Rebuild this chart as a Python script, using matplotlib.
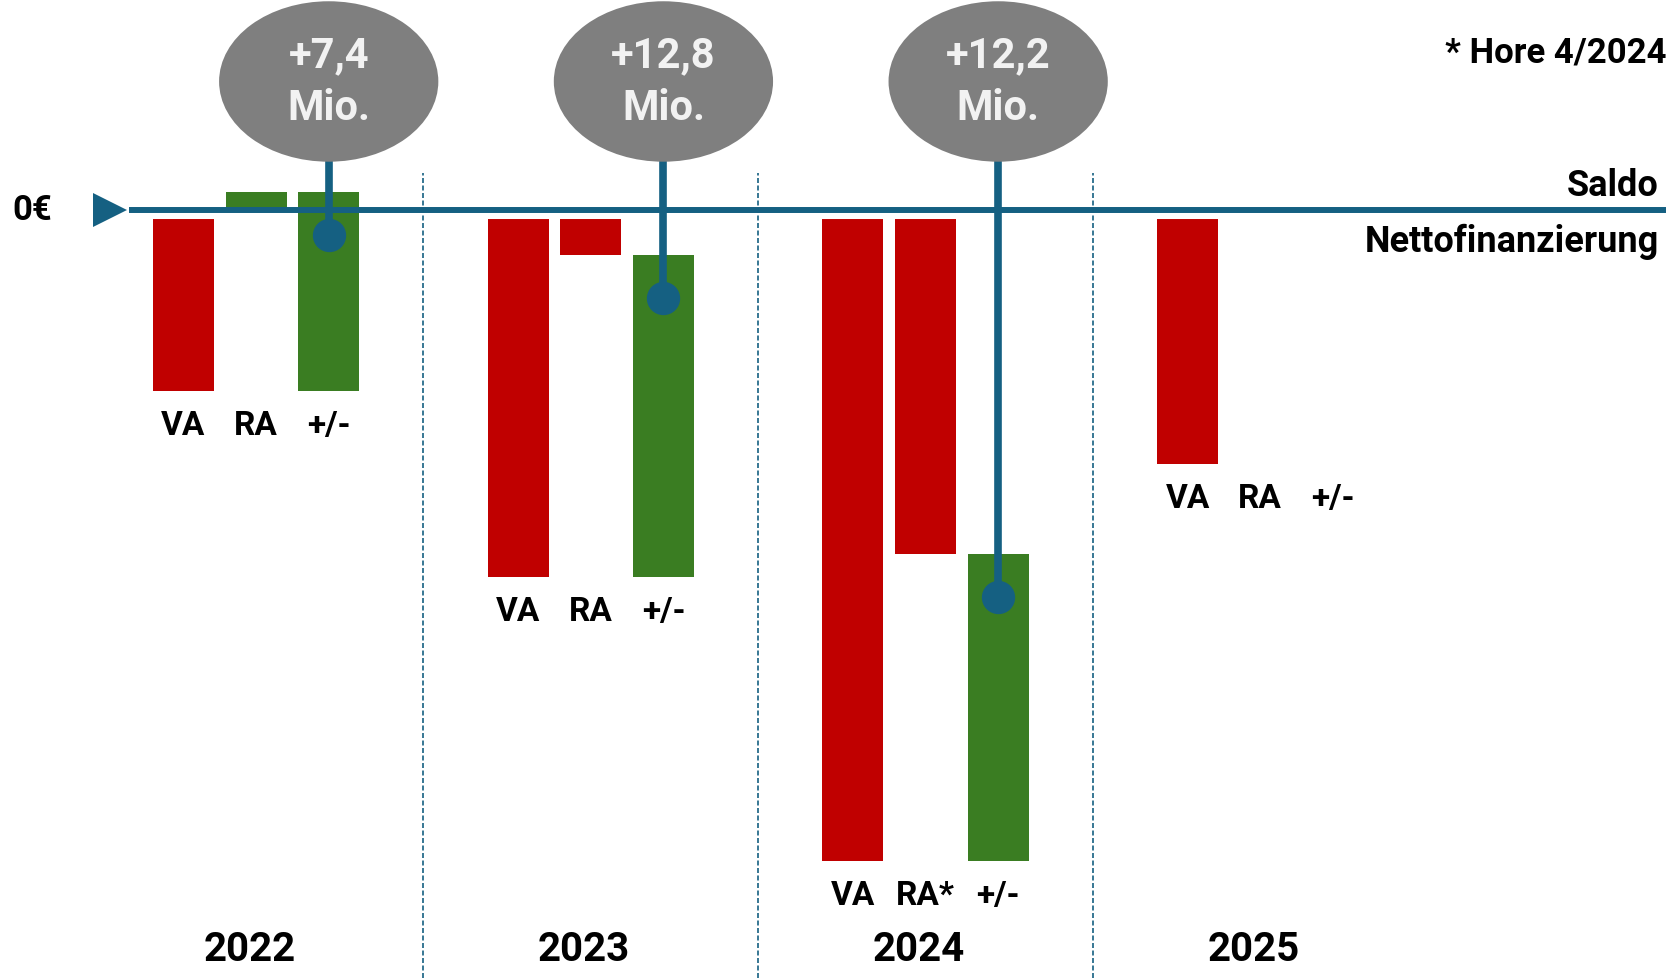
import numpy as np
import matplotlib.pyplot as plt
from matplotlib.patches import Ellipse

# Werte in Mio. €
jahre = ["2022", "2023", "2024", "2025"]
va = [-7.2, -14.6, -25.9, -10.1]        # Voranschlag
ra = [0.7, -1.8, -13.7, np.nan]         # Rechnungsabschluss
ra_labels = ["RA", "RA", "RA*", "RA"]
diff_labels = ["+7,4\nMio.", "+12,8\nMio.", "+12,2\nMio.", None]

rot = "#C00000"
gruen = "#3A7D22"
blau = "#156082"
grau = "#7F7F7F"

plt.rcParams['font.family'] = ['Roboto', 'DejaVu Sans']
plt.rcParams['font.weight'] = 'bold'

fig = plt.figure(figsize=(16.78, 9.79), dpi=100)
ax = fig.add_axes([0, 0, 1, 1])
ax.set_xlim(-0.765, 4.248)
ax.set_ylim(-30.55, 8.38)
ax.axis('off')

va = np.array(va)
ra = np.array(ra)
x = np.arange(len(jahre))
dx = 0.217   # Abstand der Balken innerhalb eines Jahres
w = 0.182

# Balken VA und RA
ax.bar(x - dx, va, w, color=rot, zorder=1)
ra_bars = ax.bar(x, np.nan_to_num(ra), w, color=[gruen if v > 0 else rot for v in np.nan_to_num(ra)], zorder=1)
for p, v in zip(ra_bars, ra):
    if v > 0:
        p.set_zorder(3)

# Differenzbalken (+/-) von VA bis RA
diff = ra - va
ok = ~np.isnan(diff)
ax.bar(x[ok] + dx, diff[ok], w, bottom=va[ok], color=gruen, zorder=3)

# Nulllinie (Saldo / Nettofinanzierung)
x0, x1 = -0.381, 4.213
ax.plot([x0, x1], [0, 0], color="white", lw=13, solid_capstyle='butt', zorder=2)
ax.plot([x0, x1], [0, 0], color=blau, lw=4.3, solid_capstyle='butt', zorder=4)
ax.plot(-0.437, 0, marker='>', ms=25, mew=0, color=blau, zorder=5)
ax.text(-0.727, 0, "0€", fontsize=25, ha='left', va='center')

# Trennlinien zwischen den Jahren
ax.vlines(x[:-1] + 0.5, -30.55, 1.45, colors=blau, lw=1.2, linestyles=(0, (3, 1.5)), zorder=3)

# Beschriftungen
for i in range(len(jahre)):
    y_lab = np.nanmin([va[i], ra[i]]) - 1.35
    for xx, t in zip([x[i] - dx, x[i], x[i] + dx], ["VA", ra_labels[i], "+/-"]):
        ax.text(xx, y_lab, t, fontsize=24, ha='center', va='center')
    ax.text(x[i] - 0.02, -29.4, jahre[i], fontsize=29, ha='center', va='center')

    if diff_labels[i] is not None:
        cx = x[i] + dx
        y_dot = ra[i] - 1.7
        ax.plot([cx, cx], [5.1, y_dot], color=blau, lw=5.5, zorder=5)
        ax.plot(cx, y_dot, 'o', ms=24, mew=0, color=blau, zorder=6)
        ax.add_patch(Ellipse((cx, 5.1), 0.655, 6.38, facecolor=grau, edgecolor='none', zorder=7))
        ax.text(cx, 5.1, diff_labels[i], fontsize=30, color="#F2F2F2", ha='center', va='center',
                linespacing=1.37, zorder=8)

ax.text(4.19, 0.98, "Saldo", fontsize=26, ha='right', va='center')
ax.text(4.19, -1.23, "Nettofinanzierung", fontsize=26, ha='right', va='center')
ax.text(4.213, 6.26, "* Hore 4/2024", fontsize=25, ha='right', va='center')

fig.savefig("out.png", dpi=100)
